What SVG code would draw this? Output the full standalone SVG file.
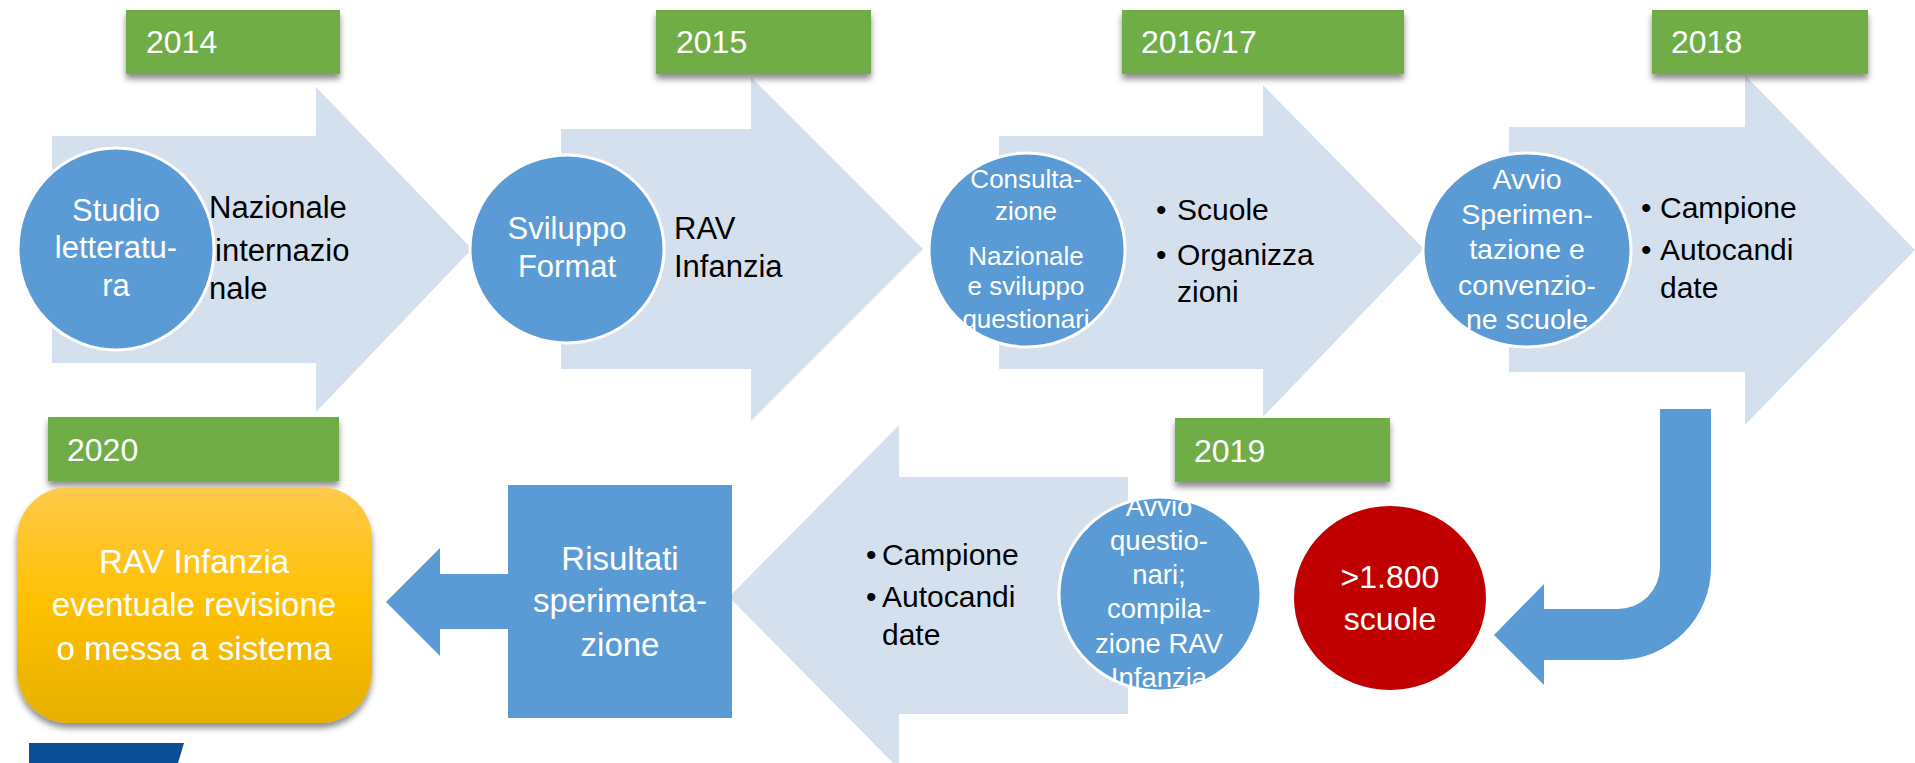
<svg xmlns="http://www.w3.org/2000/svg" width="1915" height="763" viewBox="0 0 1915 763">
<defs>
<style>
.chev{fill:#D5E0EF}
.circ{fill:#5B9BD5;stroke:#FFFFFF;stroke-width:3}
.yr{fill:#70AD47}
.yt{font-family:"Liberation Sans",Arial,sans-serif;font-size:32px;fill:#FFFFFF}
.wt{font-family:"Liberation Sans",Arial,sans-serif;fill:#FFFFFF;text-anchor:middle}
.bt{font-family:"Liberation Sans",Arial,sans-serif;fill:#000000}
.conn{fill:#5B9BD5}
</style>
<filter id="sh" x="-10%" y="-10%" width="120%" height="140%">
<feDropShadow dx="0" dy="5" stdDeviation="3" flood-color="#000000" flood-opacity="0.45"/>
</filter>
<linearGradient id="og" x1="0" y1="0" x2="0" y2="1">
<stop offset="0" stop-color="#FFC94A"/>
<stop offset="0.5" stop-color="#FFC000"/>
<stop offset="1" stop-color="#E5B000"/>
</linearGradient>
<clipPath id="c3"><ellipse cx="1027" cy="250" rx="98" ry="97"/></clipPath>
<clipPath id="c4"><ellipse cx="1527" cy="250" rx="104" ry="97"/></clipPath>
<clipPath id="c6"><ellipse cx="1160" cy="594" rx="101" ry="97"/></clipPath>
</defs>

<g id="arrow-2014">
<polygon class="chev" points="52,136 316,136 316,87 472,249 316,412 316,363 52,363"/>
<text class="bt" font-size="31"><tspan x="209" y="218">Nazionale</tspan><tspan x="215" y="261">internazio</tspan><tspan x="209" y="299">nale</tspan></text>
</g>
<g id="arrow-2015">
<polygon class="chev" points="561,129 751,129 751,77 923,249 751,421 751,369 561,369"/>
<text class="bt" font-size="31"><tspan x="674" y="239">RAV</tspan><tspan x="674" y="277">Infanzia</tspan></text>
</g>
<g id="arrow-2016">
<polygon class="chev" points="999,136 1263,136 1263,85 1424,249 1263,417 1263,369 999,369"/>
<text class="bt" font-size="30"><tspan x="1156" y="220">•</tspan><tspan x="1177" y="220">Scuole</tspan><tspan x="1156" y="265">•</tspan><tspan x="1177" y="265">Organizza</tspan><tspan x="1177" y="302">zioni</tspan></text>
</g>
<g id="arrow-2018">
<polygon class="chev" points="1509,127 1745,127 1745,75 1915,250 1745,425 1745,372 1509,372"/>
<text class="bt" font-size="30"><tspan x="1641" y="218">•</tspan><tspan x="1660" y="218">Campione</tspan><tspan x="1641" y="260">•</tspan><tspan x="1660" y="260">Autocandi</tspan><tspan x="1660" y="298">date</tspan></text>
</g>
<g id="arrow-2019">
<polygon class="chev" points="1128,477 899,477 899,425 729,597 899,769 899,714 1128,714"/>
<text class="bt" font-size="30"><tspan x="866" y="565">•</tspan><tspan x="882" y="565">Campione</tspan><tspan x="866" y="607">•</tspan><tspan x="882" y="607">Autocandi</tspan><tspan x="882" y="645">date</tspan></text>
</g>

<g id="year-2014"><rect class="yr" x="126" y="10" width="214" height="64" filter="url(#sh)"/><text class="yt" x="146" y="53">2014</text></g>
<g id="year-2015"><rect class="yr" x="656" y="10" width="215" height="64" filter="url(#sh)"/><text class="yt" x="676" y="53">2015</text></g>
<g id="year-2016"><rect class="yr" x="1122" y="10" width="282" height="64" filter="url(#sh)"/><text class="yt" x="1141" y="53">2016/17</text></g>
<g id="year-2018"><rect class="yr" x="1652" y="10" width="216" height="64" filter="url(#sh)"/><text class="yt" x="1671" y="53">2018</text></g>
<g id="year-2020"><rect class="yr" x="48" y="417" width="291" height="64" filter="url(#sh)"/><text class="yt" x="67" y="461">2020</text></g>
<g id="year-2019"><rect class="yr" x="1175" y="418" width="215" height="64" filter="url(#sh)"/><text class="yt" x="1194" y="462">2019</text></g>

<g id="connectors">
<path class="conn" d="M1660,409 H1711 V567 A93,93 0 0 1 1618,660 H1544 V685 L1494,635 L1544,584 V609 H1618 A42,42 0 0 0 1660,567 Z"/>
<polygon class="conn" points="508,574 440,574 440,548 386,602 440,656 440,629 508,629"/>
</g>

<g id="node-studio">
<ellipse class="circ" cx="116" cy="249" rx="98" ry="101"/>
<text class="wt" font-size="31"><tspan x="116" y="221">Studio</tspan><tspan x="116" y="258">letteratu-</tspan><tspan x="116" y="296">ra</tspan></text>
</g>
<g id="node-sviluppo">
<ellipse class="circ" cx="567" cy="249" rx="97" ry="94"/>
<text class="wt" font-size="31"><tspan x="567" y="239">Sviluppo</tspan><tspan x="567" y="277">Format</tspan></text>
</g>
<g id="node-consultazione">
<ellipse class="circ" cx="1027" cy="250" rx="98" ry="97"/>
<text class="wt" font-size="26" clip-path="url(#c3)"><tspan x="1026" y="188">Consulta-</tspan><tspan x="1026" y="220">zione</tspan><tspan x="1026" y="265">Nazionale</tspan><tspan x="1026" y="295">e sviluppo</tspan><tspan x="1026" y="328">questionari</tspan></text>
</g>
<g id="node-avvio-sperimentazione">
<ellipse class="circ" cx="1527" cy="250" rx="104" ry="97"/>
<text class="wt" font-size="28.5" clip-path="url(#c4)"><tspan x="1527" y="189">Avvio</tspan><tspan x="1527" y="224">Sperimen-</tspan><tspan x="1527" y="259">tazione e</tspan><tspan x="1527" y="295">convenzio-</tspan><tspan x="1527" y="329">ne scuole</tspan></text>
</g>
<g id="node-avvio-questionari">
<ellipse class="circ" cx="1160" cy="594" rx="101" ry="97"/>
<text class="wt" font-size="27.5" clip-path="url(#c6)"><tspan x="1159" y="516">Avvio</tspan><tspan x="1159" y="550">questio-</tspan><tspan x="1159" y="584">nari;</tspan><tspan x="1159" y="618">compila-</tspan><tspan x="1159" y="653">zione RAV</tspan><tspan x="1159" y="687">Infanzia</tspan></text>
</g>
<g id="node-scuole">
<ellipse cx="1390" cy="598" rx="96" ry="92" fill="#C00000"/>
<text class="wt" font-size="32"><tspan x="1390" y="588">&gt;1.800</tspan><tspan x="1390" y="630">scuole</tspan></text>
</g>
<g id="node-risultati">
<rect x="508" y="485" width="224" height="233" fill="#5B9BD5"/>
<text class="wt" font-size="33"><tspan x="620" y="570">Risultati</tspan><tspan x="620" y="612">sperimenta-</tspan><tspan x="620" y="656">zione</tspan></text>
</g>
<g id="node-rav">
<rect x="17" y="487" width="355" height="236" rx="52" ry="52" fill="url(#og)" filter="url(#sh)"/>
<text class="wt" font-size="33"><tspan x="194" y="573">RAV Infanzia</tspan><tspan x="194" y="616">eventuale revisione</tspan><tspan x="194" y="660">o messa a sistema</tspan></text>
</g>
<g id="logo">
<polygon points="29,743 184,743 178,763 29,763" fill="#0A4F98"/>
</g>
</svg>
